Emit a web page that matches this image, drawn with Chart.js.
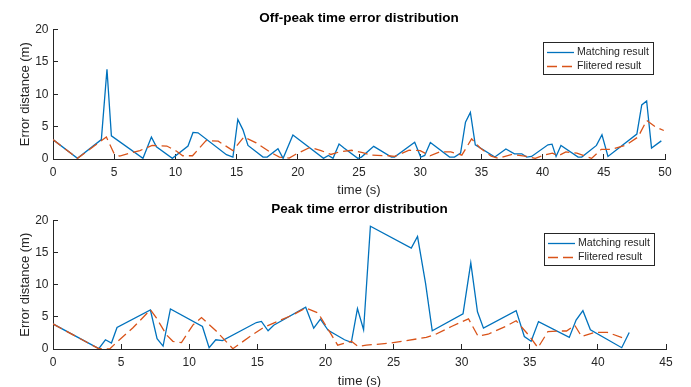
<!DOCTYPE html>
<html><head><meta charset="utf-8">
<script src="https://cdn.jsdelivr.net/npm/chart.js@4.4.0/dist/chart.umd.min.js"></script>
<style>
html,body{margin:0;padding:0;background:#fff;overflow:hidden;width:691px;height:387px;}
.wrap{position:absolute;left:0;width:691px;height:200px;}
#w1{top:0;}
#w2{top:193px;}
canvas{display:block;}
</style></head><body>
<div class="wrap" id="w1"><canvas id="c1" width="691" height="200"></canvas></div>
<div class="wrap" id="w2"><canvas id="c2" width="691" height="200"></canvas></div>
<script>
// ---- data ----
const offPeakMatchT   = [0, 2.0, 3.95, 4.41, 4.77, 7.35, 8.04, 8.45, 9.75, 11.03, 11.44, 11.85, 14.17, 14.7, 15.1, 15.52, 15.93, 17.16, 17.5, 18.38, 18.8, 19.6, 22.1, 22.5, 22.88, 23.37, 23.8, 24.9, 25.2, 26.2, 27.65, 27.9, 29.55, 30.04, 30.37, 30.83, 32.4, 32.8, 33.3, 33.7, 34.1, 34.5, 36.1, 37.0, 37.7, 38.3, 38.7, 39.1, 40.44, 40.77, 41.1, 41.5, 42.9, 43.2, 44.4, 44.85, 45.34, 47.7, 48.1, 48.5, 48.9, 49.7];
const offPeakMatchErr = [3.0, 0.1, 3.0, 13.85, 3.58, 0.1, 3.38, 1.9, 0.1, 2.0, 4.1, 4.05, 0.66, 0.3, 6.1, 4.5, 2.1, 0.3, 0.3, 1.6, 0.1, 3.7, 0.1, 0.55, 0.1, 2.3, 1.65, 0.1, 0.3, 1.95, 0.3, 0.3, 2.6, 0.3, 0.55, 2.55, 0.3, 0.3, 0.9, 5.7, 7.2, 2.2, 0.3, 1.55, 0.8, 0.8, 0.3, 0.4, 2.2, 2.3, 0.4, 2.1, 0.3, 0.3, 2.1, 3.74, 0.4, 3.84, 8.35, 8.97, 1.7, 2.8];
const offPeakFiltT    = [0, 2.0, 4.36, 5.0, 5.45, 6.3, 7.1, 8.1, 9.3, 10.1, 10.6, 11.4, 12.5, 13.5, 14.7, 15.6, 16.6, 17.8, 18.5, 19.3, 19.9, 21.0, 21.9, 22.7, 23.4, 24.4, 25.3, 26.0, 27.4, 27.9, 29.1, 30.0, 30.8, 31.6, 32.5, 33.4, 34.2, 34.9, 35.8, 36.4, 37.5, 38.7, 39.4, 40.1, 40.8, 41.3, 41.9, 42.8, 44.0, 44.8, 45.6, 46.8, 47.8, 48.5, 49.2, 49.9];
const offPeakFiltErr  = [3.0, 0.1, 3.4, 0.8, 0.45, 0.9, 1.3, 2.1, 2.0, 1.2, 0.5, 0.5, 2.85, 2.75, 1.3, 3.4, 2.5, 1.0, 0.3, 0.15, 0.8, 1.8, 1.3, 0.7, 1.1, 1.35, 1.0, 0.6, 0.5, 0.4, 1.35, 1.3, 0.5, 1.1, 1.1, 0.6, 3.1, 1.7, 0.45, 0.1, 0.7, 0.4, 0.1, 0.6, 0.9, 0.5, 1.1, 0.9, 0.1, 1.5, 1.5, 2.15, 3.4, 5.95, 5.0, 4.4];

const peakMatchT   = [0, 3.36, 3.85, 4.29, 4.7, 7.15, 7.64, 8.08, 8.62, 10.97, 11.46, 11.95, 12.44, 14.93, 15.3, 15.79, 16.2, 18.55, 19.14, 19.63, 20.2, 21.4, 21.9, 22.35, 22.8, 23.3, 26.3, 26.76, 27.35, 27.84, 30.1, 30.67, 31.16, 31.6, 34.0, 34.6, 35.1, 35.64, 37.9, 38.4, 38.9, 39.45, 41.75, 42.3];
const peakMatchErr = [3.9, 0.05, 1.44, 0.93, 3.35, 6.07, 1.6, 0.45, 6.23, 3.5, 0.2, 1.44, 1.3, 4.12, 4.3, 2.83, 3.7, 6.5, 3.25, 4.64, 2.9, 1.44, 1.03, 6.3, 3.0, 19.1, 15.7, 17.5, 10.2, 2.83, 5.46, 13.4, 5.8, 3.25, 5.97, 1.95, 1.2, 4.27, 1.8, 4.5, 5.97, 3.0, 0.2, 2.57];
const peakFiltT    = [0, 3.36, 4.16, 4.7, 5.87, 7.15, 7.6, 8.33, 8.8, 9.43, 10.28, 10.9, 12.0, 13.2, 14.7, 15.5, 16.15, 17.6, 18.55, 19.46, 20.3, 20.9, 21.9, 22.4, 23.0, 24.7, 27.4, 28.0, 29.25, 30.5, 31.2, 31.94, 33.2, 34.0, 34.9, 35.6, 36.33, 37.1, 37.7, 38.3, 38.8, 39.8, 40.7, 41.85];
const peakFiltErr  = [3.9, 0.05, 0.0, 1.1, 3.3, 6.1, 4.8, 2.2, 1.2, 1.0, 3.76, 4.9, 2.75, 0.05, 2.3, 3.4, 4.0, 5.3, 6.4, 5.6, 2.7, 0.6, 1.2, 0.4, 0.6, 0.9, 1.8, 2.2, 3.5, 4.7, 2.0, 2.3, 3.5, 4.4, 2.2, 0.2, 2.7, 2.8, 2.8, 3.7, 1.95, 2.6, 2.6, 1.7];

const seriesLabels = ['Matching result', 'Flitered result'];
const chartTitles  = ['Off-peak time error distribution', 'Peak time error distribution'];
const xAxisTitle = 'time (s)';
const yAxisTitle = 'Error distance (m)';
const xMaxOffPeak = 50, xMaxPeak = 45, xStep = 5;
const yMin = 0, yMax = 20, yStep = 5;

// ---- styling ----
const FONT = '"Liberation Sans", Arial, Helvetica, sans-serif';
const AX = '#262626';
const BLUE = '#0072BD', ORANGE = '#D95319';
Chart.defaults.font.family = FONT;

function pts(t, v){ return t.map((x, i) => ({x: x, y: v[i]})); }

const boxLegend = {
  id: 'boxLegend',
  afterDatasetsDraw(chart){
    const ca = chart.chartArea, ctx = chart.ctx;
    const w = 110, h = 32;
    const x = Math.round(ca.right - 12 - w), y = Math.round(ca.top + 12);
    ctx.save();
    ctx.fillStyle = '#fff';
    ctx.fillRect(x, y, w, h);
    ctx.strokeStyle = AX; ctx.lineWidth = 1;
    ctx.strokeRect(x + 0.5, y + 0.5, w, h);
    chart.data.datasets.forEach((ds, i) => {
      const cy = y + 10.5 + i * 14;
      ctx.strokeStyle = ds.borderColor; ctx.lineWidth = ds.borderWidth;
      ctx.setLineDash(ds.borderDash || []);
      ctx.beginPath(); ctx.moveTo(x + 4, cy); ctx.lineTo(x + 31, cy); ctx.stroke();
      ctx.setLineDash([]);
      ctx.fillStyle = AX; ctx.font = '10.6px ' + FONT; ctx.textBaseline = 'middle'; ctx.textAlign = 'left';
      ctx.fillText(ds.label, x + 34, cy);
    });
    ctx.restore();
  }
};

function makeChart(id, cfg){
  return new Chart(document.getElementById(id), {
    type: 'line',
    data: {
      datasets: [
        {label: seriesLabels[0], data: pts(cfg.mt, cfg.mv), borderColor: BLUE, borderWidth: 1.3,
         pointRadius: 0, tension: 0, fill: false, order: 1},
        {label: seriesLabels[1], data: pts(cfg.ft, cfg.fv), borderColor: ORANGE, borderWidth: 1.3,
         borderDash: [10, 5], pointRadius: 0, tension: 0, fill: false, order: 0}
      ]
    },
    options: {
      responsive: false, animation: false, devicePixelRatio: 1,
      layout: {padding: {left: 0, right: cfg.padRight, top: 0, bottom: 0}},
      plugins: {
        legend: {display: false}, tooltip: {enabled: false},
        title: {display: true, text: cfg.title, fullSize: false, color: '#000',
                font: {size: 13.5, weight: 'bold', family: FONT},
                padding: {top: cfg.titleTop, bottom: cfg.titleBottom}}
      },
      scales: {
        x: {type: 'linear', min: 0, max: cfg.xMax,
            ticks: {stepSize: xStep, padding: 11, color: AX, font: {size: 12}, maxRotation: 0, autoSkip: false},
            grid: {drawOnChartArea: false, drawTicks: true, tickLength: -5, color: AX, lineWidth: 1},
            border: {display: true, color: AX, width: 1},
            title: {display: true, text: xAxisTitle, color: AX, font: {size: 13}, padding: {top: 0, bottom: cfg.xTitlePad}},
            afterFit: s => { s.height = cfg.xHeight; }},
        y: {min: yMin, max: yMax,
            ticks: {stepSize: yStep, padding: 9.5, color: AX, font: {size: 12}},
            grid: {drawOnChartArea: false, drawTicks: true, tickLength: -5, color: AX, lineWidth: 1},
            border: {display: true, color: AX, width: 1},
            title: {display: true, text: yAxisTitle, color: AX, font: {size: 13}, padding: {top: 17.2, bottom: 0}},
            afterFit: s => { s.width = 53; }}
      }
    },
    plugins: [boxLegend]
  });
}

makeChart('c1', {mt: offPeakMatchT, mv: offPeakMatchErr, ft: offPeakFiltT, fv: offPeakFiltErr,
  title: chartTitles[0], xMax: xMaxOffPeak, padRight: 26, titleTop: 10.4, titleBottom: 2.9, xHeight: 41, xTitlePad: 2.2});
makeChart('c2', {mt: peakMatchT, mv: peakMatchErr, ft: peakFiltT, fv: peakFiltErr,
  title: chartTitles[1], xMax: xMaxPeak, padRight: 25, titleTop: 8.2, titleBottom: 3.1, xHeight: 44, xTitlePad: 4.2});
</script>
</body></html>
